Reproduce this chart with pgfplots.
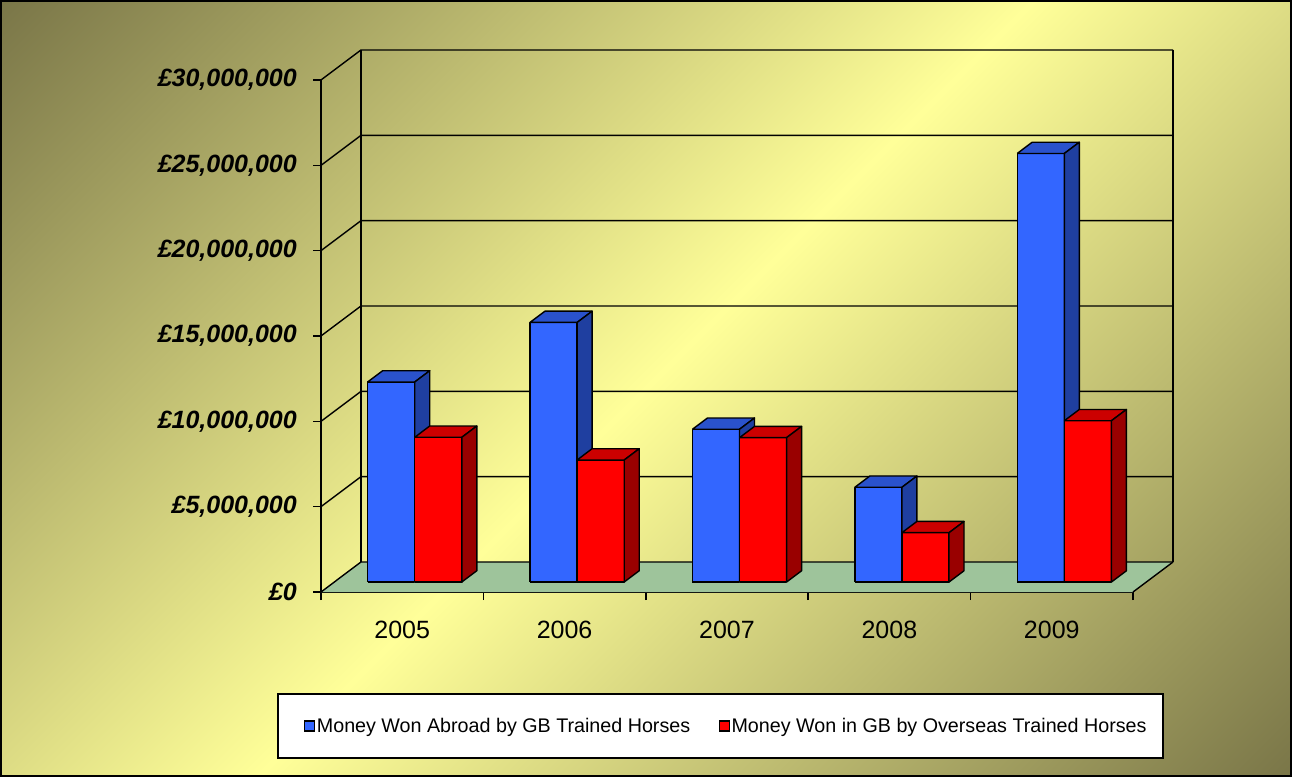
\documentclass[border=0pt]{standalone}
\usepackage{pgfplots}
\pgfplotsset{compat=1.18}
\usepackage{fontspec}
\setmainfont{Liberation Sans}
\definecolor{bgdark}{RGB}{122,118,72}
\definecolor{bglight}{RGB}{255,255,153}
\definecolor{bluefront}{RGB}{51,102,255}
\definecolor{bluetop}{RGB}{42,82,204}
\definecolor{blueside}{RGB}{31,63,160}
\definecolor{redfront}{RGB}{255,0,0}
\definecolor{redtop}{RGB}{204,0,0}
\definecolor{redside}{RGB}{153,0,0}
\definecolor{floorgreen}{RGB}{158,196,155}
\pgfdeclareverticalshading{chartbg}{100bp}{color(0bp)=(bgdark); color(14.6bp)=(bgdark); color(50bp)=(bglight); color(85.4bp)=(bgdark); color(100bp)=(bgdark)}
\pgfplotsset{firstlegimg/.style={legend image code/.code={\path (-11bp,0bp); \draw[##1, line width=1.3bp] (0bp,-5bp) rectangle (10bp,5bp);}}}
% one 3-D column: left x, right x, value (millions), front/top/side colours
\newcommand\cuboid[6]{%
  \pgfmathsetmacro\xa{#1+0.0821}%
  \pgfmathsetmacro\xb{#2+0.0821}%
  \pgfmathsetmacro\xc{#2+0.1744}%
  \pgfmathsetmacro\xd{#1+0.1744}%
  \pgfmathsetmacro\ya{0.586}%
  \pgfmathsetmacro\yb{#3+0.586}%
  \pgfmathsetmacro\yc{#3+1.245}%
  \pgfmathsetmacro\yd{1.245}%
  \edef\doit{%
    \noexpand\addplot[forget plot, fill=#4, draw=black, line width=1.4bp, line join=round] coordinates {(\xa,\ya) (\xb,\ya) (\xb,\yb) (\xa,\yb) (\xa,\ya)};
    \noexpand\addplot[forget plot, fill=#5, draw=black, line width=1.4bp, line join=round] coordinates {(\xa,\yb) (\xb,\yb) (\xc,\yc) (\xd,\yc) (\xa,\yb)};
    \noexpand\addplot[forget plot, fill=#6, draw=black, line width=1.4bp, line join=round] coordinates {(\xb,\ya) (\xc,\yd) (\xc,\yc) (\xb,\yb) (\xb,\ya)};
  }\doit}
\begin{document}
\begin{tikzpicture}
\useasboundingbox (0,0) rectangle (1292bp,777bp);
\shade[shading=chartbg, shading angle=45] (0,0) rectangle (1292bp,777bp);
\draw[line width=2bp] (1bp,1bp) rectangle (1291bp,776bp);
\begin{axis}[
  at={(321bp,185bp)}, anchor=south west,
  scale only axis, width=812bp, height=512bp,
  xmin=0, xmax=5, ymin=0, ymax=30,
  clip=false,
  axis x line*=bottom, axis y line*=left,
  axis line style={line width=1.6bp, -},
  tick align=outside, major tick length=8bp,
  tick style={line width=1.6bp, black},
  xtick={0,1,2,3,4,5},
  xticklabels={2005,2006,2007,2008,2009},
  x tick label as interval,
  xticklabel style={font=\fontsize{25bp}{29bp}\selectfont, inner sep=0pt, yshift=-21bp},
  ytick={0,5,10,15,20,25,30},
  yticklabels={{£0},{£5,000,000},{£10,000,000},{£15,000,000},{£20,000,000},{£25,000,000},{£30,000,000}},
  yticklabel style={font=\fontsize{25bp}{29bp}\selectfont\bfseries\itshape, inner sep=0pt, xshift=-16bp},
  legend style={at={(0.492,-0.2617)}, anchor=center, draw=black, line width=1.5bp, fill=white,
    font=\fontsize{19.7bp}{23bp}\selectfont, inner xsep=15bp, inner ysep=22.5bp,
    nodes={inner sep=1.5bp},
    /tikz/every even column/.append style={column sep=27bp}},
  legend columns=2, legend cell align=left,
  legend image code/.code={\draw[#1, line width=1.3bp] (0bp,-5bp) rectangle (10bp,5bp);},
]
% floor
\addplot[forget plot, fill=floorgreen, draw=none] coordinates {(0,0) (5,0) (5.2463,1.758) (0.2463,1.758) (0,0)};
\addplot[forget plot, black, line width=1.4bp] coordinates {(5,0) (5.2463,1.758)};
% side wall diagonals and back wall gridlines
\addplot[forget plot, black, line width=1.4bp] coordinates {(0,0) (0.2463,1.758) (5.2463,1.758)};
\addplot[forget plot, black, line width=1.4bp] coordinates {(0,5) (0.2463,6.758) (5.2463,6.758)};
\addplot[forget plot, black, line width=1.4bp] coordinates {(0,10) (0.2463,11.758) (5.2463,11.758)};
\addplot[forget plot, black, line width=1.4bp] coordinates {(0,15) (0.2463,16.758) (5.2463,16.758)};
\addplot[forget plot, black, line width=1.4bp] coordinates {(0,20) (0.2463,21.758) (5.2463,21.758)};
\addplot[forget plot, black, line width=1.4bp] coordinates {(0,25) (0.2463,26.758) (5.2463,26.758)};
\addplot[forget plot, black, line width=1.4bp] coordinates {(0,30) (0.2463,31.758) (5.2463,31.758)};
\addplot[forget plot, black, line width=1.4bp] coordinates {(0.2463,1.758) (0.2463,31.758)};
\addplot[forget plot, black, line width=1.4bp] coordinates {(5.2463,1.758) (5.2463,31.758)};
% columns: Money Won Abroad by GB Trained Horses (blue), Money Won in GB by Overseas Trained Horses (red)
\cuboid{0.205}{0.495}{11.72}{bluefront}{bluetop}{blueside}
\cuboid{0.495}{0.785}{8.48}{redfront}{redtop}{redside}
\cuboid{1.205}{1.495}{15.21}{bluefront}{bluetop}{blueside}
\cuboid{1.495}{1.785}{7.15}{redfront}{redtop}{redside}
\cuboid{2.205}{2.495}{8.95}{bluefront}{bluetop}{blueside}
\cuboid{2.495}{2.785}{8.46}{redfront}{redtop}{redside}
\cuboid{3.205}{3.495}{5.55}{bluefront}{bluetop}{blueside}
\cuboid{3.495}{3.785}{2.89}{redfront}{redtop}{redside}
\cuboid{4.205}{4.495}{25.11}{bluefront}{bluetop}{blueside}
\cuboid{4.495}{4.785}{9.45}{redfront}{redtop}{redside}
\addlegendimage{firstlegimg, fill=bluefront, draw=black}
\addlegendentry{Money Won Abroad by GB Trained Horses}
\addlegendimage{fill=redfront, draw=black}
\addlegendentry{Money Won in GB by Overseas Trained Horses}
\end{axis}
\end{tikzpicture}
\end{document}
